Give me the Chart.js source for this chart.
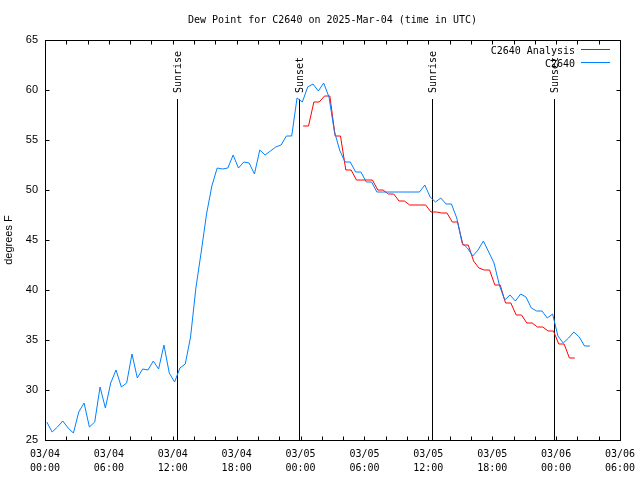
<!DOCTYPE html>
<html>
<head>
<meta charset="utf-8">
<script src="https://cdn.jsdelivr.net/npm/chart.js@4.4.1/dist/chart.umd.min.js"></script>
<style>
  body { margin: 0; background: #fff; }
  canvas { display: block; }
</style>
</head>
<body>
<canvas id="dewChart" width="640" height="480"></canvas>
<script>
// hours since 03/04 00:00 UTC
var obsHours = [
	0.17, 0.67, 1.17, 1.67, 2.17, 2.67, 3.17, 3.67, 4.17, 4.67, 5.17, 5.67,
	6.17, 6.67, 7.17, 7.67, 8.17, 8.67, 9.17, 9.67, 10.17, 10.67, 11.17, 11.67,
	12.17, 12.67, 13.17, 13.67, 14.17, 14.67, 15.17, 15.67, 16.17, 16.67, 17.17, 17.67,
	18.17, 18.67, 19.17, 19.67, 20.17, 20.67, 21.17, 21.67, 22.17, 22.67, 23.17, 23.67,
	24.17, 24.67, 25.17, 25.67, 26.17, 26.67, 27.17, 27.67, 28.17, 28.67, 29.17, 29.67,
	30.17, 30.67, 31.17, 31.67, 32.17, 32.67, 33.17, 33.67, 34.17, 34.67, 35.17, 35.67,
	36.17, 36.67, 37.17, 37.67, 38.17, 38.67, 39.17, 39.67, 40.17, 40.67, 41.17, 41.67,
	42.17, 42.67, 43.17, 43.67, 44.17, 44.67, 45.17, 45.67, 46.17, 46.67, 47.17, 47.67,
	48.17, 48.67, 49.17, 49.67, 50.17, 50.67, 51.17
];
var obsValues = [
	26.8, 25.8, 26.3, 26.9, 26.2, 25.7, 27.8, 28.7, 26.3, 26.8, 30.3, 28.2,
	30.7, 32.0, 30.3, 30.7, 33.6, 31.2, 32.1, 32.0, 32.9, 32.1, 34.5, 31.7,
	30.8, 32.2, 32.6, 35.3, 40.2, 43.8, 47.6, 50.4, 52.2, 52.1, 52.2, 53.5,
	52.2, 52.8, 52.7, 51.6, 54.0, 53.5, 53.9, 54.3, 54.5, 55.4, 55.4, 59.2,
	58.8, 60.3, 60.6, 59.9, 60.7, 59.3, 55.9, 54.0, 52.8, 52.8, 51.8, 51.8,
	50.8, 50.8, 49.8, 49.8, 49.8, 49.8, 49.8, 49.8, 49.8, 49.8, 49.8, 50.5,
	49.3, 48.8, 49.2, 48.6, 48.6, 47.2, 44.7, 44.2, 43.4, 44.0, 44.9, 43.8,
	42.7, 40.5, 39.0, 39.5, 38.9, 39.6, 39.3, 38.2, 37.9, 37.9, 37.2, 37.6,
	35.4, 34.7, 35.2, 35.8, 35.3, 34.4, 34.4
];
var anaHours = [
	24.25, 24.75, 25.25, 25.75, 26.25, 26.75, 27.25, 27.75, 28.25, 28.75, 29.25, 29.75,
	30.25, 30.75, 31.25, 31.75, 32.25, 32.75, 33.25, 33.75, 34.25, 34.75, 35.25, 35.75,
	36.25, 36.75, 37.25, 37.75, 38.25, 38.75, 39.25, 39.75, 40.25, 40.75, 41.25, 41.75,
	42.25, 42.75, 43.25, 43.75, 44.25, 44.75, 45.25, 45.75, 46.25, 46.75, 47.25, 47.75,
	48.25, 48.75, 49.25, 49.75
];
var anaValues = [
	56.4, 56.4, 58.8, 58.8, 59.4, 59.4, 55.4, 55.4, 52.0, 52.0, 51.0, 51.0,
	51.0, 51.0, 50.0, 50.0, 49.6, 49.6, 48.9, 48.9, 48.5, 48.5, 48.5, 48.5,
	47.8, 47.8, 47.7, 47.7, 46.8, 46.8, 44.5, 44.5, 42.9, 42.2, 42.0, 42.0,
	40.5, 40.5, 38.7, 38.7, 37.5, 37.5, 36.7, 36.7, 36.3, 36.3, 35.9, 35.9,
	34.6, 34.6, 33.2, 33.2
];
var sunHours = [12.4, 23.85, 36.35, 47.8];
var sunLabels = ["Sunrise", "Sunset", "Sunrise", "Sunset"];
var yTicks = [25, 30, 35, 40, 45, 50, 55, 60, 65];
var seriesNames = ["C2640 Analysis", "C2640"];
var titleText = 'Dew Point for C2640 on 2025-Mar-04 (time in UTC)';

var mono = '"DejaVu Sans Mono", monospace';
var sans = '"Liberation Sans", Arial, sans-serif';
var blue = 'rgb(0,128,255)';
var red = 'rgb(255,0,0)';

function pairs(xs, ys) {
	return xs.map(function(x, i) { return {x: x, y: ys[i]}; });
}

function tickLabel(h) {
	var day = 4 + Math.floor(h / 24);
	var hh = h % 24;
	return ['03/0' + day, (hh < 10 ? '0' : '') + hh + ':00'];
}

var overlay = {
	id: 'overlay',
	beforeDatasetsDraw: function(chart) {
		var ctx = chart.ctx, xs = chart.scales.x, ys = chart.scales.y;
		var bottom = chart.chartArea.bottom;
		var top = ys.getPixelForValue(59.1);
		ctx.save();
		ctx.strokeStyle = '#000';
		ctx.lineWidth = 1;
		ctx.fillStyle = '#000';
		ctx.font = '10px ' + mono;
		for (var i = 0; i < sunHours.length; i++) {
			var px = Math.round(xs.getPixelForValue(sunHours[i])) + 0.5;
			ctx.beginPath();
			ctx.moveTo(px, top);
			ctx.lineTo(px, bottom);
			ctx.stroke();
			ctx.save();
			ctx.translate(px + 1, top - 6);
			ctx.rotate(-Math.PI / 2);
			ctx.textAlign = 'left';
			ctx.textBaseline = 'middle';
			ctx.fillText(sunLabels[i], 0, 0);
			ctx.restore();
		}
		ctx.restore();
	},
	afterDatasetsDraw: function(chart) {
		var ctx = chart.ctx, a = chart.chartArea, xs = chart.scales.x, ys = chart.scales.y;
		var L = Math.round(a.left) + 0.5, R = Math.round(a.right) + 0.5;
		var T = Math.round(a.top) + 0.5, B = Math.round(a.bottom) + 0.5;
		ctx.save();
		ctx.strokeStyle = '#000';
		ctx.lineWidth = 1;
		ctx.strokeRect(L, T, R - L, B - T);
		ctx.beginPath();
		// inward ticks, mirrored
		for (var h = 0; h <= 54; h += 2) {
			var px = Math.round(xs.getPixelForValue(h)) + 0.5;
			ctx.moveTo(px, B); ctx.lineTo(px, B - 4);
			ctx.moveTo(px, T); ctx.lineTo(px, T + 4);
		}
		yTicks.forEach(function(v) {
			var py = Math.round(ys.getPixelForValue(v)) + 0.5;
			ctx.moveTo(L, py); ctx.lineTo(L + 4, py);
			ctx.moveTo(R, py); ctx.lineTo(R - 4, py);
		});
		ctx.stroke();

		// title, centred over the plot
		ctx.fillStyle = '#000';
		ctx.font = '10px ' + mono;
		ctx.textAlign = 'center';
		ctx.textBaseline = 'middle';
		ctx.fillText(titleText, (a.left + a.right) / 2, 20);

		// key
		var colors = [red, blue];
		ctx.textAlign = 'right';
		for (var i = 0; i < seriesNames.length; i++) {
			var y = Math.round(a.top) + 11 + i * 13;
			ctx.fillStyle = '#000';
			ctx.fillText(seriesNames[i], a.right - 45, y);
			ctx.fillStyle = colors[i];
			ctx.fillRect(Math.round(a.right) - 39, y - 2, 29, 1);
		}
		ctx.restore();
	}
};

var chart = new Chart(document.getElementById('dewChart').getContext('2d'), {
	type: 'line',
	data: {
		datasets: [{
			label: seriesNames[1],
			data: pairs(obsHours, obsValues),
			borderColor: blue,
			borderWidth: 1,
			pointRadius: 0,
			tension: 0,
			fill: false
		}, {
			label: seriesNames[0],
			data: pairs(anaHours, anaValues),
			borderColor: red,
			borderWidth: 1,
			pointRadius: 0,
			tension: 0,
			fill: false
		}]
	},
	options: {
		responsive: false,
		animation: false,
		devicePixelRatio: 1,
		layout: { padding: { left: 0, right: 20, top: 40, bottom: 0 } },
		plugins: {
			legend: { display: false },
			tooltip: { enabled: false },
			title: { display: false }
		},
		scales: {
			x: {
				type: 'linear',
				min: 0,
				max: 54,
				grid: { display: false, drawTicks: false },
				border: { display: false },
				ticks: {
					stepSize: 6,
					maxRotation: 0,
					autoSkip: false,
					padding: 8,
					color: '#000',
					font: { family: mono, size: 10, lineHeight: 1.33 },
					callback: function(v) { return tickLabel(v); }
				},
				afterFit: function(scale) {
					scale.height = 40;
					scale.paddingLeft = 0;
					scale.paddingRight = 0;
				}
			},
			y: {
				min: 25,
				max: 65,
				grid: { display: false, drawTicks: false },
				border: { display: false },
				ticks: {
					stepSize: 5,
					padding: 7,
					color: '#000',
					font: { family: sans, size: 11 }
				},
				title: {
					display: true,
					text: 'degrees F',
					color: '#000',
					font: { family: sans, size: 11 },
					padding: 2
				},
				afterFit: function(scale) { scale.width = 45; }
			}
		}
	},
	plugins: [overlay]
});
</script>
</body>
</html>
